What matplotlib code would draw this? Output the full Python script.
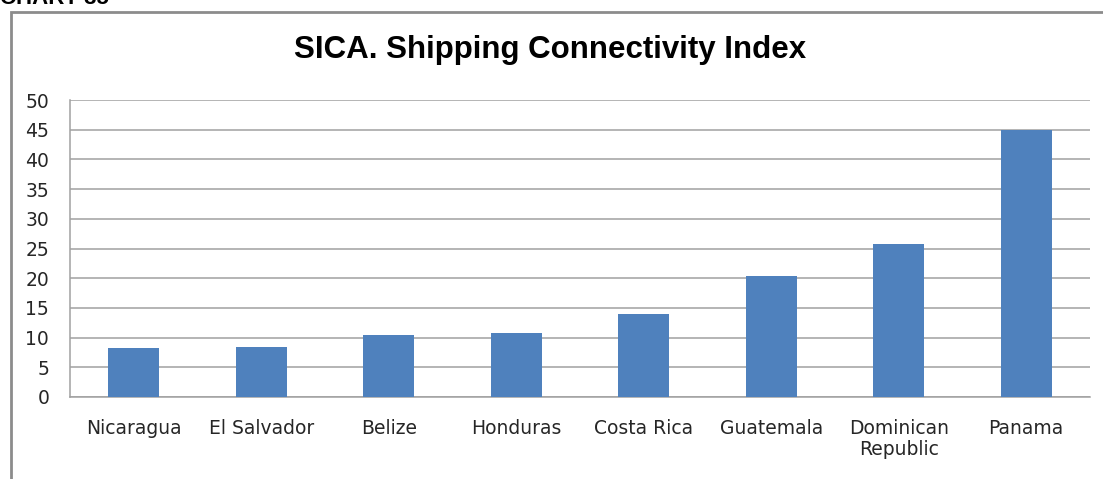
import numpy as np
import matplotlib.pyplot as plt
from matplotlib.patches import Rectangle

countries = ['Nicaragua', 'El Salvador', 'Belize', 'Honduras', 'Costa Rica',
             'Guatemala', 'Dominican\nRepublic', 'Panama']
lsci = [8.2, 8.4, 10.4, 10.8, 14.0, 20.4, 25.7, 45.0]
yticks = [0, 5, 10, 15, 20, 25, 30, 35, 40, 45, 50]

fig = plt.figure(figsize=(11.03, 4.79), dpi=100)

# outer chart frame (top and left edges only show)
fig.patches.append(Rectangle((10.5 / 1103, -0.1), 1.2, 1 - 12.5 / 479 + 0.1,
                             transform=fig.transFigure, fill=False,
                             edgecolor='#8c8c8c', linewidth=2.0))
fig.text(0.0, 1 - 4 / 479, 'CHART 35', fontsize=16, fontweight='bold',
         family='Liberation Sans', va='baseline', ha='left')

ax = fig.add_axes([70 / 1103, 1 - 397 / 479, 1020 / 1103, 297 / 479])
x = np.arange(len(countries))
ax.bar(x, lsci, width=0.4, color='#4f81bd', zorder=3)

ax.set_xlim(-0.5, len(countries) - 0.5)
ax.set_ylim(0, 50)
ax.set_yticks(yticks)
ax.set_xticks(x)
ax.set_xticklabels(countries, fontsize=13.5, color='#262626', linespacing=1.1)
ax.tick_params(axis='y', labelsize=13.5, length=0, pad=15, colors='#262626')
ax.tick_params(axis='x', length=0, pad=16)
ax.yaxis.grid(True, color='#a0a0a0', linewidth=1.1, zorder=0)
ax.set_axisbelow(True)
for s in ['top', 'right']:
    ax.spines[s].set_visible(False)
ax.spines['left'].set_color('#a0a0a0')
ax.spines['bottom'].set_color('#a0a0a0')
ax.spines['left'].set_linewidth(1.1)
ax.spines['bottom'].set_linewidth(1.1)

fig.text(550 / 1103, 1 - 50 / 479, 'SICA. Shipping Connectivity Index',
         fontsize=22.5, fontweight='bold', family='Liberation Sans',
         ha='center', va='center')

fig.savefig('out.png', dpi=100)
